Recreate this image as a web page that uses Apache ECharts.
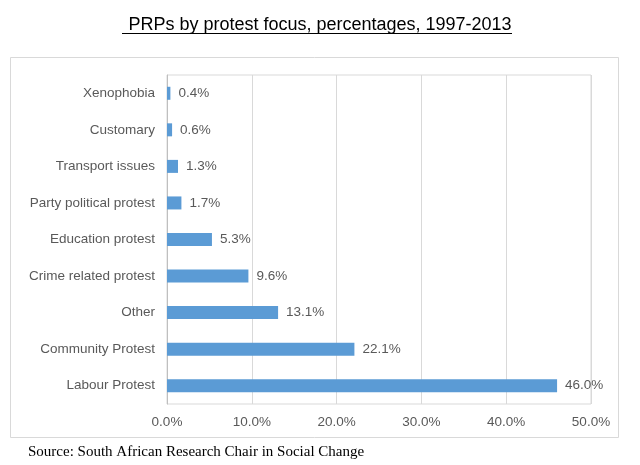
<!DOCTYPE html>
<html><head><meta charset="utf-8">
<script src="https://cdn.jsdelivr.net/npm/echarts@6/dist/echarts.min.js"></script>
<style>html,body{margin:0;padding:0;background:#fff}#c{width:640px;height:465px}</style>
</head><body><div id="c"></div>
<script>
const categories = ["Labour Protest","Community Protest","Other","Crime related protest","Education protest","Party political protest","Transport issues","Customary","Xenophobia"];
const values = [46.0,22.1,13.1,9.6,5.3,1.7,1.3,0.6,0.4];
const xTicks = [0,10,20,30,40,50];
const titleText = "PRPs by protest focus, percentages, 1997-2013";
const sourceText = "Source: South African Research Chair in Social Change";

const chart = echarts.init(document.getElementById('c'), null, {renderer:'canvas'});
chart.setOption({
  animation:false,
  backgroundColor:'#fff',
  title:{text:titleText,left:'center',top:11,textStyle:{fontFamily:'Liberation Sans',fontSize:18,fontWeight:'normal',color:'#000'}},
  graphic:[
    {type:'line',shape:{x1:122,y1:33.5,x2:512,y2:33.5},style:{stroke:'#000',lineWidth:1}},
    {type:'rect',shape:{x:10.5,y:57.5,width:608,height:380},style:{fill:'none',stroke:'#d9d9d9',lineWidth:1},z:-1},
    {type:'text',left:28,top:445,style:{text:sourceText,font:'15px "Liberation Serif"',fill:'#000'}}
  ],
  grid:{left:167,right:49,top:75,bottom:61,show:true,borderColor:'#d9d9d9',borderWidth:1},
  xAxis:{type:'value',min:xTicks[0],max:xTicks[xTicks.length-1],interval:10,
    axisLine:{show:false},axisTick:{show:false},
    splitLine:{lineStyle:{color:'#d9d9d9'}},
    axisLabel:{formatter:v=>v.toFixed(1)+'%',color:'#595959',fontSize:13.5,fontFamily:'Liberation Sans',margin:11}},
  yAxis:{type:'category',data:categories,
    axisLine:{lineStyle:{color:'#bfbfbf'}},axisTick:{show:false},
    axisLabel:{color:'#595959',fontSize:13.5,fontFamily:'Liberation Sans',margin:12}},
  series:[{type:'bar',data:values,barWidth:13,
    itemStyle:{color:'#5b9bd5'},
    label:{show:true,position:'right',distance:8,formatter:p=>p.value.toFixed(1)+'%',color:'#595959',fontSize:13.5,fontFamily:'Liberation Sans'}}]
});
</script></body></html>
